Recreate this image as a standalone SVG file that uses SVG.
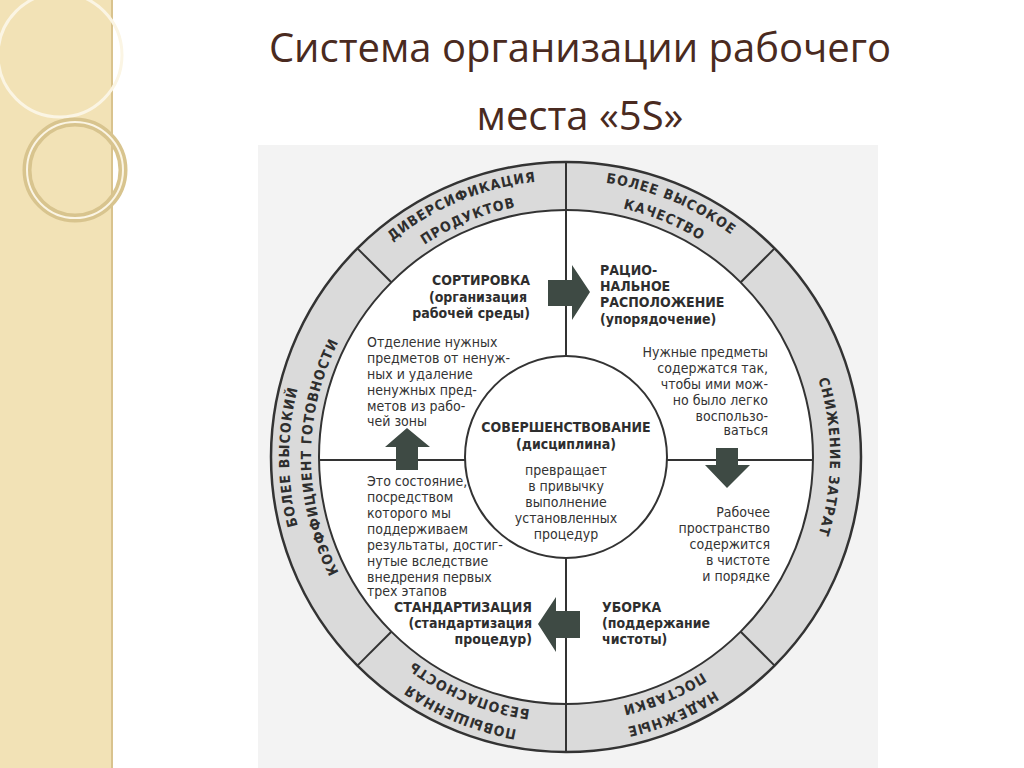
<svg xmlns="http://www.w3.org/2000/svg" width="1024" height="768" viewBox="0 0 1024 768">
<style>
.ring{font-family:"DejaVu Sans Condensed","DejaVu Sans",sans-serif;font-weight:bold;font-size:14px;fill:#2e2e2e;letter-spacing:1px}
.b{font-family:"DejaVu Sans Condensed","DejaVu Sans",sans-serif;font-weight:bold;font-size:14px;fill:#2e2e2e}
.r{font-family:"DejaVu Sans Condensed","DejaVu Sans",sans-serif;font-size:14px;fill:#333}
.ln{stroke:#333;stroke-width:2;fill:none}
.ar{fill:#3e4a44}
</style>
<defs>
<path id="tl1" d="M370.2,261.2 A277,277 0 0 1 566,180"/>
<path id="tl2" d="M385.7,276.7 A255,255 0 0 1 566,202"/>
<path id="tr1" d="M566,180 A277,277 0 0 1 761.8,261.2"/>
<path id="tr2" d="M566,202 A255,255 0 0 1 746.3,276.7"/>
<path id="rr" d="M752.7,270.3 A264,264 0 0 1 752.7,643.7"/>
<path id="br1" d="M761.8,652.8 A277,277 0 0 1 566,734"/>
<path id="br2" d="M746.3,637.3 A255,255 0 0 1 566,712"/>
<path id="bl1" d="M566,734 A277,277 0 0 1 370.2,652.8"/>
<path id="bl2" d="M566,712 A255,255 0 0 1 385.7,637.3"/>
<path id="l1" d="M370.2,652.8 A277,277 0 0 1 370.2,261.2"/>
<path id="l2" d="M385.7,637.3 A255,255 0 0 1 385.7,276.7"/>
</defs>
<rect width="1024" height="768" fill="#ffffff"/>
<g id="stripe">
<rect x="0" y="0" width="112" height="768" fill="#f2e2b6"/>
<line x1="112" y1="0" x2="112" y2="768" stroke="#d9c38e" stroke-width="2"/>
<circle cx="60" cy="55" r="62" fill="none" stroke="#fbf5e4" stroke-width="3"/>
<circle cx="75" cy="170" r="48" fill="none" stroke="#d8c48e" stroke-width="9"/>
<circle cx="75" cy="170" r="48" fill="none" stroke="#fbf5e4" stroke-width="2"/>
</g>
<g id="title" font-family="'Open Sans','Liberation Sans',sans-serif" font-size="40" fill="#4a2a20" text-anchor="middle">
<text x="580" y="62">Система организации рабочего</text>
<text x="580" y="130">места «5S»</text>
</g>
<rect x="258" y="145" width="620" height="623" fill="#f3f3f3"/>
<g id="ring">
<circle cx="566" cy="457" r="295" fill="#dadada" stroke="#333" stroke-width="2.5"/>
<circle cx="566" cy="457" r="247" fill="#ffffff" stroke="#333" stroke-width="2"/>
<g class="ln">
<line x1="566" y1="162" x2="566" y2="210"/>
<line x1="566" y1="704" x2="566" y2="752"/>
<line x1="740.7" y1="282.3" x2="774.6" y2="248.4"/>
<line x1="740.7" y1="631.7" x2="774.6" y2="665.6"/>
<line x1="391.3" y1="282.3" x2="357.4" y2="248.4"/>
<line x1="391.3" y1="631.7" x2="357.4" y2="665.6"/>
</g>
<text class="ring" text-anchor="middle"><textPath href="#tl1" startOffset="50%">ДИВЕРСИФИКАЦИЯ</textPath></text>
<text class="ring" text-anchor="middle"><textPath href="#tl2" startOffset="50%">ПРОДУКТОВ</textPath></text>
<text class="ring" text-anchor="middle"><textPath href="#tr1" startOffset="50%">БОЛЕЕ ВЫСОКОЕ</textPath></text>
<text class="ring" text-anchor="middle"><textPath href="#tr2" startOffset="50%">КАЧЕСТВО</textPath></text>
<text class="ring" text-anchor="middle"><textPath href="#rr" startOffset="50%">СНИЖЕНИЕ ЗАТРАТ</textPath></text>
<text class="ring" text-anchor="middle"><textPath href="#br1" startOffset="50%">НАДЕЖНЫЕ</textPath></text>
<text class="ring" text-anchor="middle"><textPath href="#br2" startOffset="50%">ПОСТАВКИ</textPath></text>
<text class="ring" text-anchor="middle"><textPath href="#bl1" startOffset="50%">ПОВЫШЕННАЯ</textPath></text>
<text class="ring" text-anchor="middle"><textPath href="#bl2" startOffset="50%">БЕЗОПАСНОСТЬ</textPath></text>
<text class="ring" text-anchor="middle"><textPath href="#l1" startOffset="50%">БОЛЕЕ ВЫСОКИЙ</textPath></text>
<text class="ring" text-anchor="middle"><textPath href="#l2" startOffset="50%">КОЭФФИЦИЕНТ ГОТОВНОСТИ</textPath></text>
</g>
<g id="connectors" class="ln">
<line x1="566" y1="210" x2="566" y2="356"/>
<line x1="566" y1="558" x2="566" y2="704"/>
<line x1="319" y1="460" x2="467" y2="460"/>
<line x1="665" y1="460" x2="813" y2="460"/>
</g>
<g id="arrows">
<path class="ar" d="M548,280 H572 V265 L590,292 L572,320 V306 H548 Z"/>
<path class="ar" d="M407,428 L430,447 H418 V470 H396 V447 H385 Z"/>
<path class="ar" d="M716,448 H738 V465 H750 L727,488 L705,465 H716 Z"/>
<path class="ar" d="M580,611 V638 H556 V652 L538,624 L556,597 V611 Z"/>
</g>
<g id="center">
<circle cx="566" cy="457" r="101" fill="#fff" stroke="#333" stroke-width="2"/>
<text class="b" x="566" y="432" text-anchor="middle">СОВЕРШЕНСТВОВАНИЕ</text>
<text class="b" x="566" y="449" text-anchor="middle">(дисциплина)</text>
<text class="r" text-anchor="middle"><tspan x="566" y="475">превращает</tspan><tspan x="566" y="491">в привычку</tspan><tspan x="566" y="507">выполнение</tspan><tspan x="566" y="523">установленных</tspan><tspan x="566" y="539">процедур</tspan></text>
</g>
<g id="sort">
<text class="b" text-anchor="end"><tspan x="530" y="285">СОРТИРОВКА</tspan><tspan x="527" y="302">(организация</tspan><tspan x="530" y="318">рабочей среды)</tspan></text>
<text class="r"><tspan x="367" y="347">Отделение нужных</tspan><tspan x="367" y="363">предметов от ненуж-</tspan><tspan x="367" y="379">ных и удаление</tspan><tspan x="367" y="395">ненужных пред-</tspan><tspan x="367" y="411">метов из рабо-</tspan><tspan x="367" y="426">чей зоны</tspan></text>
</g>
<g id="order">
<text class="b"><tspan x="600" y="275">РАЦИО-</tspan><tspan x="600" y="291">НАЛЬНОЕ</tspan><tspan x="600" y="307">РАСПОЛОЖЕНИЕ</tspan><tspan x="600" y="324">(упорядочение)</tspan></text>
<text class="r" text-anchor="end"><tspan x="768" y="357">Нужные предметы</tspan><tspan x="768" y="373">содержатся так,</tspan><tspan x="768" y="389">чтобы ими мож-</tspan><tspan x="768" y="405">но было легко</tspan><tspan x="768" y="421">воспользо-</tspan><tspan x="768" y="435">ваться</tspan></text>
</g>
<g id="clean">
<text class="b"><tspan x="602" y="612">УБОРКА</tspan><tspan x="602" y="628">(поддержание</tspan><tspan x="602" y="644">чистоты)</tspan></text>
<text class="r" text-anchor="end"><tspan x="770" y="517">Рабочее</tspan><tspan x="770" y="533">пространство</tspan><tspan x="770" y="549">содержится</tspan><tspan x="770" y="565">в чистоте</tspan><tspan x="770" y="581">и порядке</tspan></text>
</g>
<g id="standard">
<text class="b" text-anchor="end"><tspan x="532" y="612">СТАНДАРТИЗАЦИЯ</tspan><tspan x="532" y="628">(стандартизация</tspan><tspan x="532" y="644">процедур)</tspan></text>
<text class="r"><tspan x="367" y="486">Это состояние,</tspan><tspan x="367" y="502">посредством</tspan><tspan x="367" y="518">которого мы</tspan><tspan x="367" y="534">поддерживаем</tspan><tspan x="367" y="550">результаты, достиг-</tspan><tspan x="367" y="566">нутые вследствие</tspan><tspan x="367" y="582">внедрения первых</tspan><tspan x="367" y="596">трех этапов</tspan></text>
</g>
</svg>
